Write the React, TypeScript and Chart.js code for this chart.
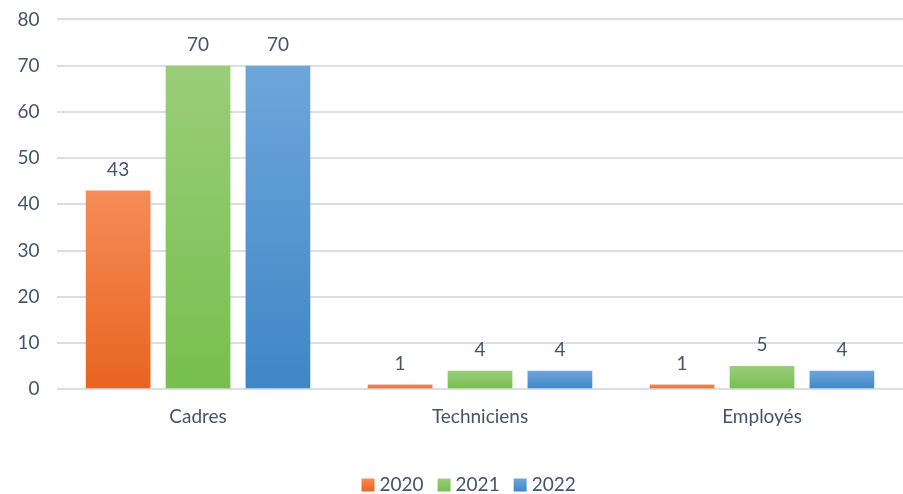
import React, { useEffect, useRef } from "react";
import { Chart, registerables } from "chart.js";

Chart.register(...registerables);

const categories = ["Cadres", "Techniciens", "Employés"];
const seriesNames = ["2020", "2021", "2022"];
const values2020 = [43, 1, 1];
const values2021 = [70, 4, 5];
const values2022 = [70, 4, 4];
const yTicks = { min: 0, max: 80, step: 10 };

const topColors = ["#F68C58", "#9BCD79", "#6EA6DA"];
const bottomColors = ["#E8641F", "#76BF4E", "#3F86C7"];
const midColors = ["#F07638", "#88C664", "#5596D0"];
const textColor = "#44546A";
const gridColor = "#D9DDE5";
const fontFamily = "Lato, 'Open Sans', sans-serif";
const fontSize = 19;

function barGradient(context: any) {
  const chart = context.chart;
  const di = context.datasetIndex;
  const yScale = chart.scales && chart.scales.y;
  if (!yScale || !chart.chartArea || context.type !== "data") return midColors[di];
  const v = context.raw as number;
  const top = yScale.getPixelForValue(v);
  const bottom = yScale.getPixelForValue(0);
  if (!isFinite(top) || !isFinite(bottom) || bottom - top < 1) return midColors[di];
  const g = chart.ctx.createLinearGradient(0, top, 0, bottom);
  g.addColorStop(0, topColors[di]);
  g.addColorStop(1, bottomColors[di]);
  return g;
}

const labelPlugin = {
  id: "valueLabels",
  afterDatasetsDraw(chart: any) {
    const ctx = chart.ctx;
    ctx.save();
    ctx.fillStyle = textColor;
    ctx.font = `${fontSize}px ${fontFamily}`;
    ctx.textAlign = "center";
    ctx.textBaseline = "middle";
    chart.data.datasets.forEach((ds: any, di: number) => {
      const meta = chart.getDatasetMeta(di);
      meta.data.forEach((bar: any, i: number) => {
        ctx.fillText(String(ds.data[i]), bar.x, bar.y - 21);
      });
    });
    ctx.restore();
  },
};

const legendPlugin = {
  id: "customLegend",
  afterDraw(chart: any) {
    const ctx = chart.ctx;
    ctx.save();
    ctx.font = `${fontSize}px ${fontFamily}`;
    const box = 13;
    const gap = 5;
    const spacing = 14;
    const widths = seriesNames.map((n) => box + gap + ctx.measureText(n).width);
    const total = widths.reduce((a, b) => a + b, 0) + spacing * (seriesNames.length - 1);
    const center = 0.4 * (chart.width / 2) + 0.6 * ((chart.chartArea.left + chart.chartArea.right) / 2);
    let x = center - total / 2;
    const y = chart.height - 9;
    ctx.textBaseline = "middle";
    ctx.textAlign = "left";
    seriesNames.forEach((n, i) => {
      const g = ctx.createLinearGradient(0, y - box / 2, 0, y + box / 2);
      g.addColorStop(0, topColors[i]);
      g.addColorStop(1, bottomColors[i]);
      ctx.fillStyle = g;
      ctx.fillRect(x, y - box / 2, box, box);
      ctx.fillStyle = textColor;
      ctx.fillText(n, x + box + gap, y);
      x += widths[i] + spacing;
    });
    ctx.restore();
  },
};

export default function App() {
  const ref = useRef<HTMLCanvasElement>(null);
  useEffect(() => {
    if (!ref.current) return;
    const seriesValues = [values2020, values2021, values2022];
    const chart = new Chart(ref.current, {
      type: "bar",
      data: {
        labels: categories,
        datasets: seriesNames.map((name, i) => ({
          label: name,
          data: seriesValues[i],
          backgroundColor: barGradient,
          borderWidth: 0,
          categoryPercentage: 0.85,
          barPercentage: 0.81,
        })),
      },
      options: {
        responsive: true,
        maintainAspectRatio: false,
        animation: false,
        layout: { padding: { top: 0, right: 0, left: 0, bottom: 58 } },
        plugins: {
          tooltip: { enabled: false },
          legend: { display: false },
        },
        scales: {
          x: {
            grid: { display: false },
            border: { display: false },
            ticks: {
              color: textColor,
              font: { family: fontFamily, size: fontSize },
              padding: 8,
            },
          },
          y: {
            min: yTicks.min,
            max: yTicks.max,
            ticks: {
              stepSize: yTicks.step,
              color: textColor,
              font: { family: fontFamily, size: fontSize, lineHeight: 0.2 },
              padding: 17.5,
            },
            grid: { color: gridColor, lineWidth: 2, drawTicks: false },
            border: { display: false },
          },
        },
      },
      plugins: [labelPlugin, legendPlugin],
    });
    return () => chart.destroy();
  }, []);
  return (
    <div style={{ position: "fixed", left: 0, top: 0, width: 903, height: 494, background: "#fff" }}>
      <canvas ref={ref} />
    </div>
  );
}
